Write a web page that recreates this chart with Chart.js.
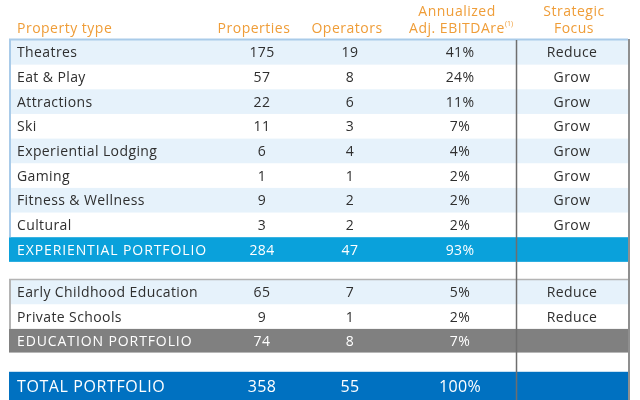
<!DOCTYPE html>
<html>
<head>
<meta charset="utf-8">
<script src="https://cdn.jsdelivr.net/npm/chart.js@4.4.1/dist/chart.umd.min.js"></script>
<style>
  html, body { margin: 0; padding: 0; background: #ffffff; }
  #wrap { width: 640px; height: 400px; position: relative; }
</style>
</head>
<body>
<div id="wrap"><canvas id="c"></canvas></div>
<script>
// ---- Data ----
const headers = ['Property type', 'Properties', 'Operators', ['Annualized', 'Adj. EBITDAre'], ['Strategic', 'Focus']];
const expCategories = ['Theatres', 'Eat & Play', 'Attractions', 'Ski', 'Experiential Lodging', 'Gaming', 'Fitness & Wellness', 'Cultural'];
const expProperties = [175, 57, 22, 11, 6, 1, 9, 3];
const expOperators = [19, 8, 6, 3, 4, 1, 2, 2];
const expEbitdare = [41, 24, 11, 7, 4, 2, 2, 2];
const expFocus = ['Reduce', 'Grow', 'Grow', 'Grow', 'Grow', 'Grow', 'Grow', 'Grow'];
const expTotal = ['EXPERIENTIAL PORTFOLIO', 284, 47, 93];
const eduCategories = ['Early Childhood Education', 'Private Schools'];
const eduProperties = [65, 9];
const eduOperators = [7, 1];
const eduEbitdare = [5, 2];
const eduFocus = ['Reduce', 'Reduce'];
const eduTotal = ['EDUCATION PORTFOLIO', 74, 8, 7];
const grandTotal = ['TOTAL PORTFOLIO', 358, 55, 100];

// ---- Layout / style (table units: x 0..1 = table width, y 1 = one row) ----
const FONT = '"Open Sans", "DejaVu Sans", sans-serif';
const colText = [0.0113, 0.4078, 0.5502, 0.7282, 0.9094];
const colHead = [0.0113, 0.3948, 0.5453, 0.7233, 0.9126];
const dividerX = 0.8196;
const C = {
  head: '#ef9d38', text: '#2f2f2f', shade: '#e6f2fb', exp: '#0aa1db',
  edu: '#808080', total: '#0071c1', blueLine: '#a9cbe9', grayLine: '#b4b4b4',
  divider: '#6e6e6e', right: '#8f8f8f'
};

// build rows from data
const rows = [];
expCategories.forEach((c, i) => rows.push({ kind: 'data', label: c, vals: [expProperties[i], expOperators[i], expEbitdare[i] + '%'], focus: expFocus[i], shade: i % 2 === 0, h: 1 }));
rows.push({ kind: 'exp', label: expTotal[0], vals: [expTotal[1], expTotal[2], expTotal[3] + '%'], h: 1 });
rows.push({ kind: 'spacer', h: 0.72 });
eduCategories.forEach((c, i) => rows.push({ kind: 'data', label: c, vals: [eduProperties[i], eduOperators[i], eduEbitdare[i] + '%'], focus: eduFocus[i], shade: i % 2 === 0, h: 1, edu: true }));
rows.push({ kind: 'edu', label: eduTotal[0], vals: [eduTotal[1], eduTotal[2], eduTotal[3] + '%'], h: 0.96, edu: true });
rows.push({ kind: 'spacer', h: 0.78 });
rows.push({ kind: 'total', label: grandTotal[0], vals: [grandTotal[1], grandTotal[2], grandTotal[3] + '%'], h: 1.2 });
let acc = 0;
rows.forEach(r => { r.top = acc; acc += r.h; r.bottom = acc; });

const tablePlugin = {
  id: 'tablePlugin',
  afterDraw(chart) {
    const { ctx, scales: { x, y } } = chart;
    const X = v => x.getPixelForValue(v);
    const Y = v => y.getPixelForValue(v);
    ctx.save();
    rows.forEach(r => {
      let fill = null;
      if (r.kind === 'data' && r.shade) fill = C.shade;
      if (r.kind === 'exp') fill = C.exp;
      if (r.kind === 'edu') fill = C.edu;
      if (r.kind === 'total') fill = C.total;
      if (fill) {
        ctx.fillStyle = fill;
        ctx.fillRect(X(-0.0016), Y(r.top), X(1) - X(-0.0016), Y(r.bottom) - Y(r.top));
      }
    });
    const line = (x1, y1, x2, y2, col, w) => {
      ctx.beginPath(); ctx.strokeStyle = col; ctx.lineWidth = w;
      ctx.moveTo(x1, y1); ctx.lineTo(x2, y2); ctx.stroke();
    };
    const expRow = rows.find(r => r.kind === 'exp');
    const eduFirst = rows.find(r => r.edu);
    const eduRow = rows.find(r => r.kind === 'edu');
    const last = rows[rows.length - 1];
    line(X(-0.0016), Y(0) - 0.5, X(1), Y(0) - 0.5, C.blueLine, 2);
    line(X(0), Y(0), X(0), Y(expRow.top), C.blueLine, 2);
    line(X(-0.0016), Y(eduFirst.top), X(1), Y(eduFirst.top), C.grayLine, 1.5);
    line(X(0), Y(eduFirst.top), X(0), Y(eduRow.top), C.grayLine, 2);
    line(X(dividerX), Y(0), X(dividerX), Y(last.bottom), C.divider, 1.5);
    line(X(1) + 1, Y(0) - 1, X(1) + 1, Y(last.bottom), C.right, 2);

    const setFont = (size, spacing) => {
      ctx.font = size + 'px ' + FONT;
      ctx.letterSpacing = spacing + 'px';
    };

    ctx.fillStyle = C.head;
    ctx.textBaseline = 'middle';
    setFont(14, 0.5);
    const yLine1 = Y(-1.13), yLine2 = Y(-0.45);
    headers.forEach((h, i) => {
      ctx.textAlign = i === 0 ? 'left' : 'center';
      if (Array.isArray(h)) {
        ctx.fillText(h[0], X(colHead[i]), yLine1);
        ctx.fillText(h[1], X(colHead[i]), yLine2);
        if (i === 3) {
          const w = ctx.measureText(h[1]).width;
          setFont(7, 0);
          ctx.textAlign = 'left';
          ctx.fillText('(1)', X(colHead[i]) + w / 2, yLine2 - 5);
          setFont(14, 0.5);
        }
      } else {
        ctx.fillText(h, X(colHead[i]), yLine2);
      }
    });

    rows.forEach(r => {
      if (r.kind === 'spacer') return;
      const cy = Y((r.top + r.bottom) / 2) + 1;
      const isTotal = r.kind !== 'data';
      ctx.fillStyle = isTotal ? '#ffffff' : C.text;
      if (r.kind === 'total') setFont(16, 0.6);
      else if (isTotal) setFont(14, 0.9);
      else setFont(14, 0.4);
      ctx.textAlign = 'left';
      ctx.fillText(r.label, X(colText[0]), cy);
      ctx.textAlign = 'center';
      setFont(r.kind === 'total' ? 16 : 14, 0.4);
      r.vals.forEach((v, j) => ctx.fillText(String(v), X(colText[j + 1]), cy));
      if (r.focus) ctx.fillText(r.focus, X(colText[4]), cy);
    });
    ctx.restore();
  }
};

new Chart(document.getElementById('c'), {
  type: 'scatter',
  data: { datasets: [{ data: [], pointRadius: 0 }] },
  options: {
    responsive: true, maintainAspectRatio: false, animation: false, events: [],
    layout: { padding: 0 },
    plugins: { legend: { display: false }, tooltip: { enabled: false } },
    scales: {
      x: { type: 'linear', display: false, min: -10 / 618, max: 630 / 618 },
      y: { type: 'linear', display: false, reverse: true, min: -40 / 24.65, max: 360 / 24.65 }
    }
  },
  plugins: [tablePlugin]
});
</script>
</body>
</html>
